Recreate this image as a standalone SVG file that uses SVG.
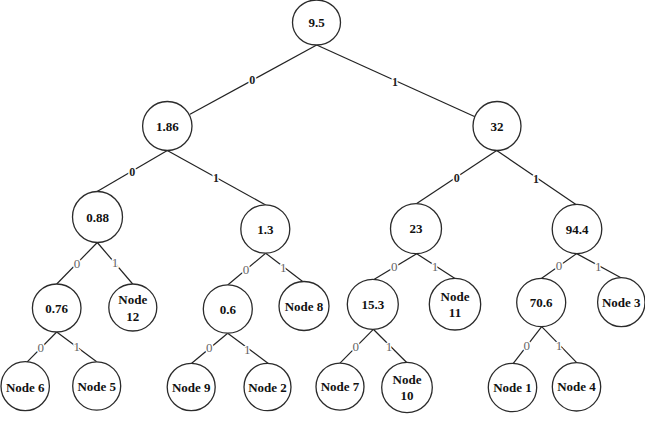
<svg xmlns="http://www.w3.org/2000/svg" width="645" height="424" viewBox="0 0 645 424">
<style>
.n ellipse{fill:#fff;stroke:#2b2b2b;stroke-width:1.3}
.n text{font-family:"Liberation Serif","Times New Roman",serif;font-size:13px;font-weight:bold;fill:#111;text-anchor:middle;dominant-baseline:central}
#edges line{stroke:#222;stroke-width:1.2}
#edges text{font-family:"Liberation Serif","Times New Roman",serif;text-anchor:middle;dominant-baseline:central;stroke:#fff;stroke-width:3;paint-order:stroke;stroke-linejoin:round}
#edges text.b{font-size:12px;font-weight:bold;fill:#222}
#edges text.g{font-size:13px;fill:#666}
</style>
<rect width="645" height="424" fill="#fff"/>
<g id="edges">
<line x1="316.7" y1="45" x2="190" y2="114.3"/>
<line x1="316.7" y1="45" x2="475" y2="116.7"/>
<line x1="167.3" y1="150.5" x2="96.7" y2="191.7"/>
<line x1="167.3" y1="150.5" x2="265.7" y2="205"/>
<line x1="496.7" y1="150.5" x2="416.7" y2="203.5"/>
<line x1="496.7" y1="150.5" x2="576.7" y2="205"/>
<line x1="97.3" y1="242.5" x2="56.7" y2="284"/>
<line x1="97.3" y1="242.5" x2="132.7" y2="284"/>
<line x1="56.7" y1="332" x2="26.7" y2="362.3"/>
<line x1="56.7" y1="332" x2="96.7" y2="361.8"/>
<line x1="265.7" y1="253.2" x2="227.7" y2="285"/>
<line x1="265.7" y1="253.2" x2="303.3" y2="282"/>
<line x1="227.7" y1="333.2" x2="191.7" y2="363.3"/>
<line x1="227.7" y1="333.2" x2="268.3" y2="363.5"/>
<line x1="416.7" y1="253.7" x2="374.3" y2="279.3"/>
<line x1="416.7" y1="253.7" x2="455" y2="278.5"/>
<line x1="373.3" y1="329.3" x2="340" y2="363.2"/>
<line x1="373.3" y1="329.3" x2="406.7" y2="362.5"/>
<line x1="576.7" y1="253.6" x2="541.7" y2="278.3"/>
<line x1="576.7" y1="253.6" x2="621" y2="277.8"/>
<line x1="541.7" y1="326.7" x2="513.3" y2="363.3"/>
<line x1="541.7" y1="326.7" x2="576.7" y2="362.6"/>
<text class="b" x="252.3" y="80">0</text>
<text class="b" x="395" y="81.7">1</text>
<text class="b" x="132.3" y="171.7">0</text>
<text class="b" x="216" y="178.3">1</text>
<text class="b" x="456.7" y="177.7">0</text>
<text class="b" x="536" y="179.3">1</text>
<text class="g" x="77" y="263">0</text>
<text class="g" x="115" y="262.7">1</text>
<text class="g" x="40.7" y="347.3">0</text>
<text class="g" x="76.7" y="346.7">1</text>
<text class="g" x="246" y="269">0</text>
<text class="g" x="283.3" y="267.7">1</text>
<text class="g" x="209.3" y="347.3">0</text>
<text class="g" x="247.3" y="349.3">1</text>
<text class="g" x="394.3" y="266">0</text>
<text class="g" x="435" y="266">1</text>
<text class="g" x="355.7" y="346">0</text>
<text class="g" x="389" y="346">1</text>
<text class="g" x="559" y="265">0</text>
<text class="g" x="598.3" y="266">1</text>
<text class="g" x="526.7" y="345">0</text>
<text class="g" x="559" y="345">1</text>
</g>
<g id="n-root" class="n"><ellipse cx="316.5" cy="22.5" rx="24" ry="22.5"/><text x="316.5" y="22">9.5</text></g>
<g id="n-1-86" class="n"><ellipse cx="167.3" cy="126" rx="24.7" ry="24.5"/><text x="167.3" y="126.5">1.86</text></g>
<g id="n-32" class="n"><ellipse cx="497" cy="126" rx="24" ry="24.5"/><text x="497" y="126.5">32</text></g>
<g id="n-0-88" class="n"><ellipse cx="97.5" cy="217" rx="25" ry="25.5"/><text x="97.5" y="217">0.88</text></g>
<g id="n-1-3" class="n"><ellipse cx="265.3" cy="229" rx="24.5" ry="24.2"/><text x="265.3" y="229">1.3</text></g>
<g id="n-23" class="n"><ellipse cx="416" cy="228.7" rx="25.5" ry="25"/><text x="416" y="228.7">23</text></g>
<g id="n-94-4" class="n"><ellipse cx="577" cy="229" rx="24.8" ry="24.6"/><text x="577" y="229">94.4</text></g>
<g id="n-0-76" class="n"><ellipse cx="56.7" cy="308" rx="24.3" ry="24"/><text x="56.7" y="308">0.76</text></g>
<g id="n-node12" class="n"><ellipse cx="132.8" cy="307.5" rx="24" ry="23.5"/><text x="132.8" y="299.3">Node</text><text x="132.8" y="316">12</text></g>
<g id="n-0-6" class="n"><ellipse cx="227.8" cy="309" rx="24.5" ry="24.2"/><text x="227.8" y="309">0.6</text></g>
<g id="n-node8" class="n"><ellipse cx="304" cy="306" rx="25" ry="24.5"/><text x="304" y="306">Node 8</text></g>
<g id="n-15-3" class="n"><ellipse cx="372.8" cy="304.3" rx="25.5" ry="25"/><text x="372.8" y="304.3">15.3</text></g>
<g id="n-node11" class="n"><ellipse cx="455" cy="304.2" rx="25.7" ry="25.8"/><text x="455" y="296.7">Node</text><text x="455" y="312.7">11</text></g>
<g id="n-70-6" class="n"><ellipse cx="541.2" cy="302.5" rx="24.5" ry="24.2"/><text x="541.2" y="302.5">70.6</text></g>
<g id="n-node3" class="n"><ellipse cx="621.3" cy="302.2" rx="23.7" ry="24.5"/><text x="621.3" y="302.2">Node 3</text></g>
<g id="n-node6" class="n"><ellipse cx="25.2" cy="386.2" rx="24.2" ry="24.5"/><text x="25.2" y="387">Node 6</text></g>
<g id="n-node5" class="n"><ellipse cx="96.7" cy="386" rx="24" ry="24.2"/><text x="96.7" y="386">Node 5</text></g>
<g id="n-node9" class="n"><ellipse cx="191.2" cy="387" rx="24" ry="23.7"/><text x="191.2" y="387">Node 9</text></g>
<g id="n-node2" class="n"><ellipse cx="267.5" cy="387" rx="23.5" ry="23.7"/><text x="267.5" y="387">Node 2</text></g>
<g id="n-node7" class="n"><ellipse cx="340" cy="386.7" rx="24" ry="23.5"/><text x="340" y="386.7">Node 7</text></g>
<g id="n-node10" class="n"><ellipse cx="407" cy="387.5" rx="25.3" ry="25.2"/><text x="407" y="379.3">Node</text><text x="407" y="395">10</text></g>
<g id="n-node1" class="n"><ellipse cx="512.5" cy="387.5" rx="24.2" ry="24.2"/><text x="512.5" y="387.5">Node 1</text></g>
<g id="n-node4" class="n"><ellipse cx="576.5" cy="386.8" rx="24.2" ry="24.2"/><text x="576.5" y="386.8">Node 4</text></g>
</svg>
